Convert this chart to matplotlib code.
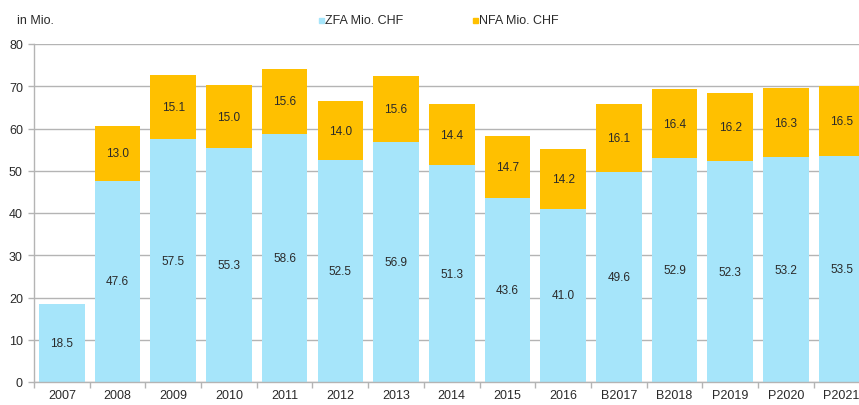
import matplotlib
matplotlib.use("Agg")
import matplotlib.pyplot as plt
from matplotlib.patches import Rectangle

plt.rcParams['font.family'] = ['Liberation Sans', 'DejaVu Sans']

categories = ["2007", "2008", "2009", "2010", "2011", "2012", "2013", "2014",
              "2015", "2016", "B2017", "B2018", "P2019", "P2020", "P2021"]
zfa = [18.5, 47.6, 57.5, 55.3, 58.6, 52.5, 56.9, 51.3, 43.6, 41.0,
       49.6, 52.9, 52.3, 53.2, 53.5]
nfa = [0, 13.0, 15.1, 15.0, 15.6, 14.0, 15.6, 14.4, 14.7, 14.2,
       16.1, 16.4, 16.2, 16.3, 16.5]
series_names = ["ZFA Mio. CHF", "NFA Mio. CHF"]
unit_label = "in Mio."

blue = "#A6E5FA"
orange = "#FFC000"
text_col = "#2a2a2a"
grid_col = "#B4B4B4"

W, H = 859, 406
fig = plt.figure(figsize=(W / 100, H / 100), dpi=100)
left_px, right_px, top_px, bot_px = 34, 869.5, 45, 383
ax = fig.add_axes([left_px / W, (H - bot_px) / H, (right_px - left_px) / W,
                   (bot_px - top_px) / H])

x = list(range(len(categories)))
width = 0.82
ax.bar(x, zfa, width=width, color=blue, zorder=2)
ax.bar(x, nfa, width=width, bottom=zfa, color=orange, zorder=2)

for i in x:
    ax.text(i, zfa[i] / 2, f"{zfa[i]:.1f}", ha="center", va="center",
            fontsize=8.5, color=text_col, zorder=3)
    if nfa[i] > 0:
        ax.text(i, zfa[i] + nfa[i] / 2, f"{nfa[i]:.1f}", ha="center",
                va="center", fontsize=8.5, color=text_col, zorder=3)

ax.set_xlim(-0.5, len(categories) - 0.5)
ax.set_ylim(0, 80)
ax.set_yticks(range(0, 81, 10))
ax.yaxis.grid(True, color=grid_col, linewidth=1.0, zorder=0)
ax.set_axisbelow(True)

ax.set_xticks(x)
ax.set_xticklabels(categories)
ax.set_xticks([i - 0.5 for i in x] + [len(categories) - 0.5], minor=True)
ax.tick_params(axis="x", which="major", length=0, pad=5, labelsize=9,
               labelcolor=text_col)
ax.tick_params(axis="x", which="minor", length=4, color=grid_col, width=1)
ax.tick_params(axis="y", length=4, color=grid_col, width=1, pad=4,
               labelsize=9, labelcolor=text_col)

for s in ["top", "right"]:
    ax.spines[s].set_visible(False)
for s in ["left", "bottom"]:
    ax.spines[s].set_color(grid_col)
    ax.spines[s].set_linewidth(1.0)

fig.text(17 / W, 1 - 21 / H, unit_label, fontsize=9, color=text_col,
         va="center", ha="left")

# legend
leg_items = [(series_names[0], blue, 319), (series_names[1], orange, 473)]
for name, col, px in leg_items:
    fig.patches.append(Rectangle((px / W, 1 - 23.5 / H), 5 / W, 5 / H,
                                 transform=fig.transFigure, color=col,
                                 figure=fig))
    fig.text((px + 6) / W, 1 - 21 / H, name, fontsize=9, color=text_col,
             va="center", ha="left")

fig.savefig("out.png", dpi=100)
